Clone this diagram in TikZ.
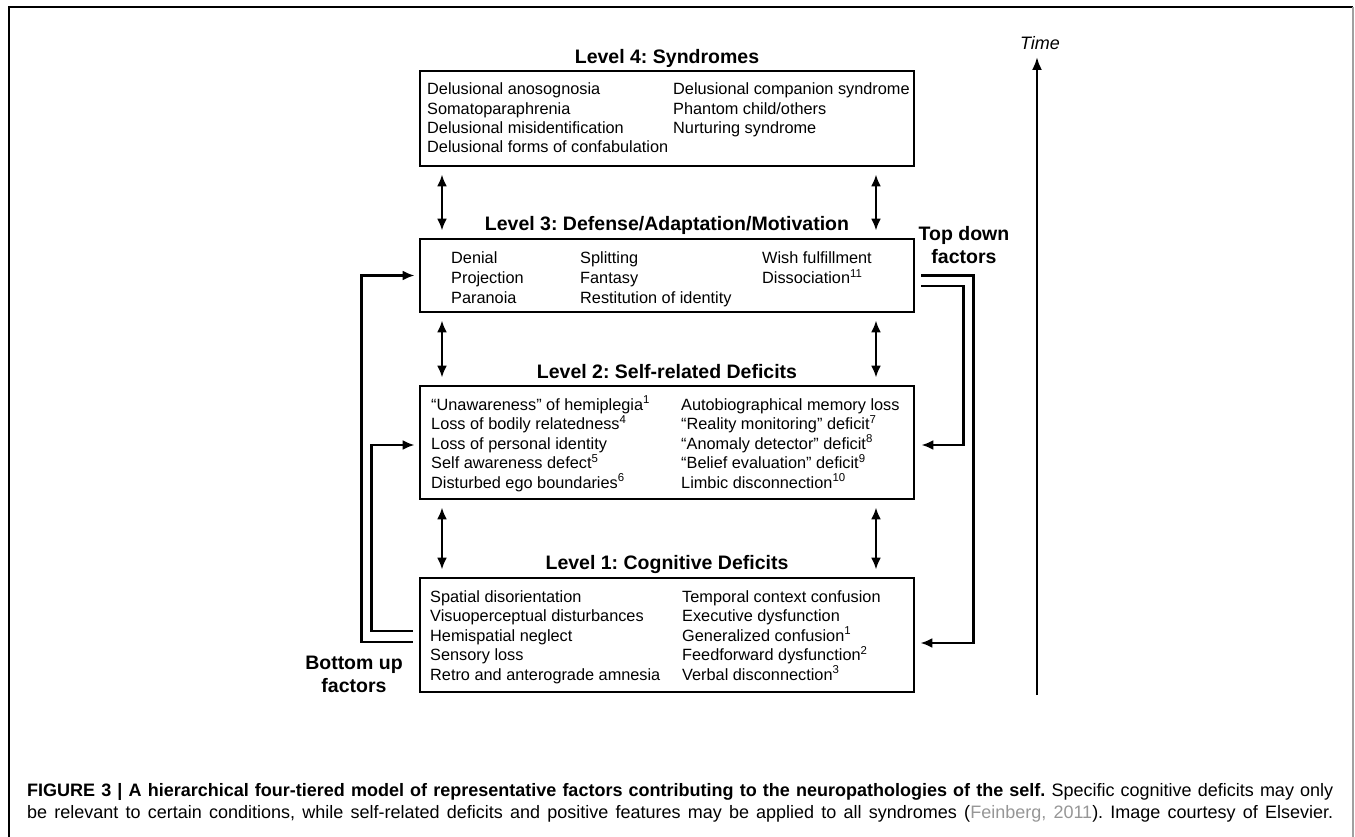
\documentclass[tikz,border=0pt]{standalone}
\usepackage{fontspec}
\setmainfont{Liberation Sans}
\usetikzlibrary{positioning, arrows.meta}
\definecolor{citegray}{RGB}{150, 150, 150}
\definecolor{framegray}{RGB}{160, 160, 160}
\frenchspacing

\begin{document}
\begin{tikzpicture}[
  x=1pt, y=-1pt,
  level/.style={draw, line width=2.8pt, minimum width=494pt, inner sep=0pt},
  title/.style={font=\bfseries\fontsize{19.5}{22}\selectfont, anchor=base, inner sep=0pt},
  item/.style={font=\fontsize{16.3}{19}\selectfont, anchor=base west, inner sep=0pt},
  side/.style={font=\bfseries\fontsize{19.5}{23}\selectfont, align=center, inner sep=0pt},
  link/.style={{Latex[length=12pt,width=10pt]}-{Latex[length=12pt,width=10pt]}, line width=2.6pt},
  feed/.style={-{Latex[length=12pt,width=10pt]}, line width=2.6pt},
  timeline/.style={-{Latex[length=13pt,width=10pt]}, line width=2.4pt}
]
  \useasboundingbox (0,0) rectangle (1355,837);

  % Frame
  \draw[line width=1.6pt] (9,837) -- (9,7) -- (1353,7);
  \draw[framegray, line width=1.2pt] (1353,7) -- (1353,837);

  % Level boxes
  \node[level, minimum height=95pt] (l4) at (667,118.5) {};
  \node[level, minimum height=73pt] (l3) at (667,275.5) {};
  \node[level, minimum height=113pt] (l2) at (667,442.5) {};
  \node[level, minimum height=114pt] (l1) at (667,635) {};

  % Titles
  \node[title] (t4) at (667,64) {Level 4: Syndromes};
  \node[title] (t3) at (667,231) {Level 3: Defense/Adaptation/Motivation};
  \node[title] (t2) at (667,378) {Level 2: Self-related Deficits};
  \node[title] (t1) at (667,569) {Level 1: Cognitive Deficits};

  % Level 4 entries
  \foreach \t [count=\k] in {Delusional anosognosia, Somatoparaphrenia,
      Delusional misidentification, Delusional forms of confabulation}
    \node[item] (l4a\k) at (427,{95+19.3*(\k-1)}) {\t};
  \foreach \t [count=\k] in {Delusional companion syndrome,
      {Phantom child/others}, Nurturing syndrome}
    \node[item] (l4b\k) at (673,{95+19.3*(\k-1)}) {\t};

  % Level 3 entries
  \foreach \t [count=\k] in {Denial, Projection, Paranoia}
    \node[item] (l3a\k) at (451,{264+19.5*(\k-1)}) {\t};
  \foreach \t [count=\k] in {Splitting, Fantasy, Restitution of identity}
    \node[item] (l3b\k) at (580,{264+19.5*(\k-1)}) {\t};
  \foreach \t [count=\k] in {Wish fulfillment, Dissociation\textsuperscript{11}}
    \node[item] (l3c\k) at (762,{264+19.5*(\k-1)}) {\t};

  % Level 2 entries
  \foreach \t [count=\k] in {“Unawareness” of hemiplegia\textsuperscript{1},
      Loss of bodily relatedness\textsuperscript{4}, Loss of personal identity,
      Self awareness defect\textsuperscript{5}, Disturbed ego boundaries\textsuperscript{6}}
    \node[item] (l2a\k) at (431,{410+19.5*(\k-1)}) {\t};
  \foreach \t [count=\k] in {Autobiographical memory loss,
      “Reality monitoring” deficit\textsuperscript{7},
      “Anomaly detector” deficit\textsuperscript{8},
      “Belief evaluation” deficit\textsuperscript{9},
      Limbic disconnection\textsuperscript{10}}
    \node[item] (l2b\k) at (681,{410+19.5*(\k-1)}) {\t};

  % Level 1 entries
  \foreach \t [count=\k] in {Spatial disorientation, Visuoperceptual disturbances,
      Hemispatial neglect, Sensory loss, Retro and anterograde amnesia}
    \node[item] (l1a\k) at (430,{602+19.5*(\k-1)}) {\t};
  \foreach \t [count=\k] in {Temporal context confusion, Executive dysfunction,
      Generalized confusion\textsuperscript{1}, Feedforward dysfunction\textsuperscript{2},
      Verbal disconnection\textsuperscript{3}}
    \node[item] (l1b\k) at (682,{602+19.5*(\k-1)}) {\t};

  % Links between levels
  \foreach \u/\v in {l4/l3, l3/l2, l2/l1} {
    \draw[link] ([xshift=-225pt,yshift=-7pt]\u.south) -- ([xshift=-225pt,yshift=7pt]\v.north);
    \draw[link] ([xshift=209pt,yshift=-7pt]\u.south) -- ([xshift=209pt,yshift=7pt]\v.north);
  }

  % Bottom up factors
  \node[side] (bu) at (354,674) {Bottom up\\factors};
  \draw[feed] ([xshift=-6pt,yshift=-7pt]l1.west) -| ([xshift=-57pt]l3.west) -- ([xshift=-4pt]l3.west);
  \draw[feed] ([xshift=-6pt,yshift=4pt]l1.west) -| ([xshift=-47pt,yshift=-2.5pt]l2.west) -- ([xshift=-4pt,yshift=-2.5pt]l2.west);

  % Top down factors
  \node[side] (td) at (964,245) {Top down\\factors};
  \draw[feed] ([xshift=6pt]l3.east) -| ([xshift=58pt,yshift=-8pt]l1.east) -- ([xshift=5pt,yshift=-8pt]l1.east);
  \draw[feed] ([xshift=6pt,yshift=-10.5pt]l3.east) -| ([xshift=48pt,yshift=-2.5pt]l2.east) -- ([xshift=6pt,yshift=-2.5pt]l2.east);

  % Time axis
  \node[font=\itshape\fontsize{18}{21}\selectfont, inner sep=0pt] (time) at (1040,43) {Time};
  \coordinate (tbase) at (1037,695);
  \draw[timeline] (tbase) -- (tbase |- 0,57);

  % Caption
  \node[anchor=base west, inner sep=0pt, font=\fontsize{18}{22}\selectfont] (cap1) at (27,796)
    {\makebox[1306pt][s]{\textbf{FIGURE 3 | A hierarchical four-tiered model of representative factors contributing to the neuropathologies of the self.} Specific cognitive deficits may only}};
  \node[anchor=base west, inner sep=0pt, font=\fontsize{18}{22}\selectfont] (cap2) at (27,818)
    {\makebox[1306pt][s]{be relevant to certain conditions, while self-related deficits and positive features may be applied to all syndromes (\textcolor{citegray}{Feinberg, 2011}). Image courtesy of Elsevier.}};
\end{tikzpicture}
\end{document}
